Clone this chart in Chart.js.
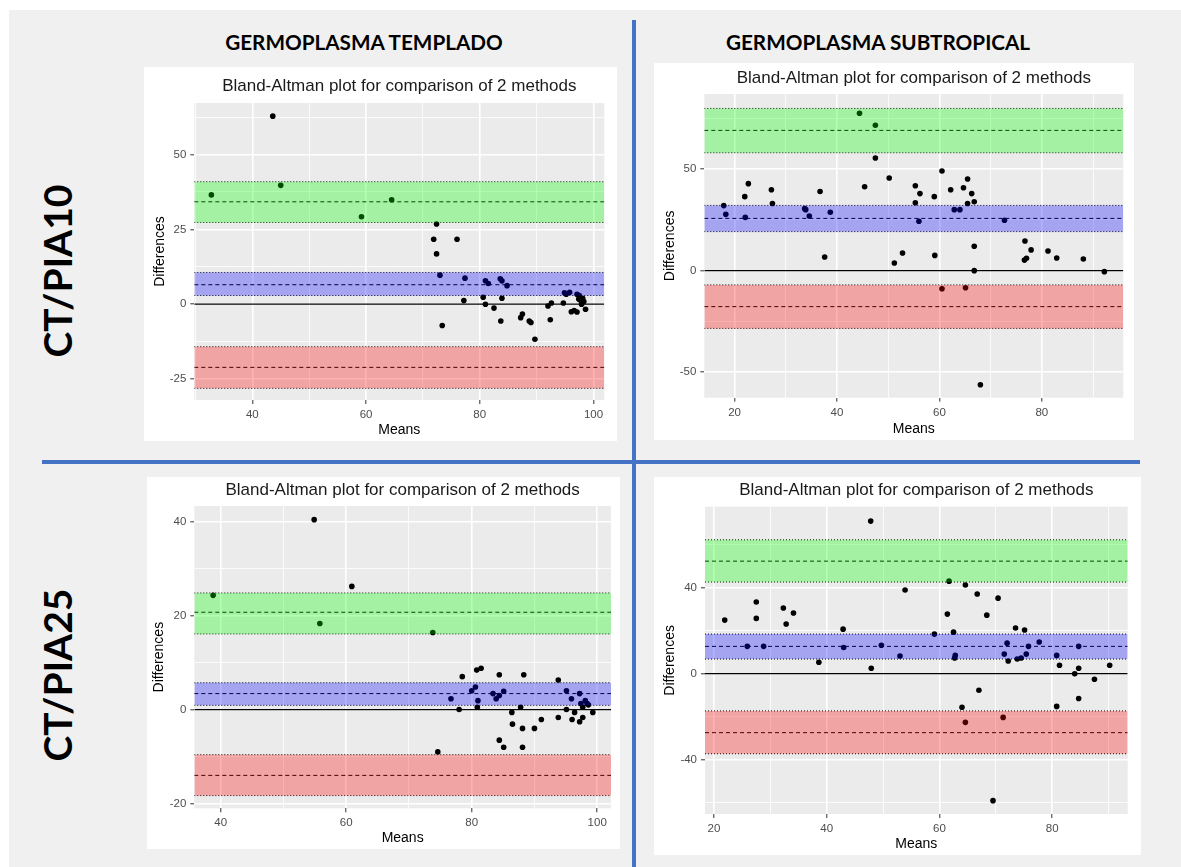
<!DOCTYPE html>
<html>
<head>
<meta charset="utf-8">
<title>Bland-Altman CT / PIA</title>
<script src="https://cdn.jsdelivr.net/npm/chart.js@4.4.1/dist/chart.umd.min.js"></script>
<style>
  body { margin: 0; background: #fff; width: 1181px; height: 867px; position: relative; overflow: hidden; }
  #sheet { position: absolute; left: 9px; top: 10px; width: 1172px; height: 857px; background: #f0f0f0; }
  .panel { position: absolute; background: #fff; }
  .panel canvas { position: absolute; left: 0; top: 0; }
  .head { position: absolute; font-family: Lato, sans-serif; font-weight: bold; font-size: 20.7px; color: #000;
          transform: translate(-50%, -50%); white-space: nowrap; }
  .row { position: absolute; font-family: Lato, sans-serif; font-weight: bold; font-size: 39px; color: #000;
         transform: translate(-50%, -50%) rotate(-90deg); white-space: nowrap; }
  .bar { position: absolute; background: #4472c4; }
</style>
</head>
<body>
<div id="sheet"></div>
<div class="bar" style="left:632px;top:20px;width:4px;height:847px"></div>
<div class="bar" style="left:42px;top:460px;width:1098px;height:4px"></div>
<div class="head" style="left:364px;top:42px">GERMOPLASMA TEMPLADO</div>
<div class="head" style="left:878px;top:42px">GERMOPLASMA SUBTROPICAL</div>
<div class="row" style="left:57px;top:271px">CT/PIA10</div>
<div class="row" style="left:57px;top:675px">CT/PIA25</div>

<div class="panel" style="left:144px;top:67px;width:473px;height:374px"><canvas id="chart1" width="473" height="374"></canvas></div>
<div class="panel" style="left:654px;top:63px;width:480px;height:377px"><canvas id="chart2" width="480" height="377"></canvas></div>
<div class="panel" style="left:147px;top:477px;width:473px;height:372px"><canvas id="chart3" width="473" height="372"></canvas></div>
<div class="panel" style="left:654px;top:477px;width:487px;height:378px"><canvas id="chart4" width="487" height="378"></canvas></div>

<script>
'use strict';

// templado, CT/PIA10
var temp10Means = [32.8, 43.6, 45.0, 59.2, 64.5, 72.4, 71.9, 76.0, 72.4, 73.0, 73.4, 77.4, 77.2, 80.6, 81.0, 81.0,
    81.5, 82.5, 83.6, 83.9, 83.9, 83.7, 84.8, 87.2, 87.5, 88.7, 89.0, 89.7, 92.0, 92.6, 92.4, 94.7, 94.9, 95.2,
    95.8, 96.1, 96.6, 97.1, 97.1, 97.4, 97.5, 97.7, 98.1, 97.9, 98.3, 98.6];
var temp10Diffs = [36.5, 62.8, 39.7, 29.2, 34.9, 26.8, 21.7, 21.7, 16.8, 9.7, -7.1, 8.7, 1.2, 2.3, 0, 7.8,
    6.9, -1.3, 8.5, 7.8, 2.0, -5.6, 6.2, -4.5, -3.3, -5.6, -6.1, -11.7, -0.6, 0.4, -5.2, 0.4, 3.8, 3.3,
    4.0, -2.5, -2.1, -2.6, 3.3, 1.7, 2.9, 1.3, 2.0, 0, 0.9, -1.7];
var temp10Upper = [27.3, 34.2, 40.9];
var temp10Bias = [2.9, 6.5, 10.6];
var temp10Lower = [-28.1, -21.1, -14.2];
var temp10XRange = [29.8, 101.9];
var temp10YRange = [-32, 67.2];
var temp10XTicks = [30, 40, 50, 60, 70, 80, 90, 100];
var temp10XLabels = [40, 60, 80, 100];
var temp10YTicks = [-25, -12.5, 0, 12.5, 25, 37.5, 50, 62.5];
var temp10YLabels = [-25, 0, 25, 50];

// subtropical, CT/PIA10
var sub10Means = [17.9, 18.3, 22.0, 22.1, 22.7, 27.2, 27.4, 33.7, 33.9, 34.6, 36.7, 37.6, 38.7, 44.4, 45.4,
    47.5, 47.5, 50.2, 51.2, 52.8, 55.3, 55.3, 56.2, 56.0, 59.0, 59.1, 60.5, 60.5, 62.2, 62.9, 64.0, 64.7,
    65.5, 65.5, 65.1, 66.3, 66.8, 66.8, 66.8, 68.0, 72.7, 76.6, 77.0, 76.7, 77.9, 81.2, 82.9, 88.1, 92.2];
var sub10Diffs = [32.0, 27.7, 36.4, 26.2, 42.8, 39.8, 33.0, 30.5, 30.0, 26.9, 38.9, 6.7, 28.7, 77.4, 41.3,
    71.5, 55.4, 45.6, 3.8, 8.7, 41.8, 33.4, 37.9, 24.3, 36.4, 7.5, 49.0, -8.9, 39.8, 30.0, 30.0, 40.8,
    45.1, 33.0, -8.4, 37.9, 33.9, 12.0, 0, -56.1, 24.8, 5.2, 6.1, 14.6, 10.2, 9.7, 6.2, 5.7, -0.5];
var sub10Upper = [58.0, 69.0, 79.8];
var sub10Bias = [19.2, 25.7, 32.1];
var sub10Lower = [-28.4, -17.7, -7.0];
var sub10XRange = [14.1, 95.9];
var sub10YRange = [-62.5, 86.9];
var sub10XTicks = [20, 30, 40, 50, 60, 70, 80, 90];
var sub10XLabels = [20, 40, 60, 80];
var sub10YTicks = [-50, -25, 0, 25, 50, 75];
var sub10YLabels = [-50, 0, 50];

// templado, CT/PIA25
var temp25Means = [38.8, 54.9, 55.8, 60.9, 73.8, 74.6, 76.7, 78.0, 78.5, 80.0, 80.6, 80.8, 81.5, 80.9, 81.0,
    83.4, 83.9, 84.4, 84.4, 85.1, 84.4, 85.1, 86.4, 86.5, 87.8, 88.1, 88.3, 88.1, 90.0, 91.1, 93.8, 93.8,
    95.1, 95.1, 95.9, 96.0, 96.4, 97.2, 97.2, 97.4, 97.7, 97.7, 98.1, 98.4, 98.6, 99.3];
var temp25Diffs = [24.3, 40.4, 18.3, 26.2, 16.4, -9.0, 2.3, 0, 7.0, 4.0, 4.8, 8.4, 8.8, 0.5, 1.9,
    3.4, 2.3, 3.0, 7.4, 3.9, -6.5, -8.0, -0.6, -3.1, 0.5, -4.0, 7.4, -8.0, -4.0, -2.1, 6.3, -1.7,
    4.0, 0, 2.3, -2.1, -0.6, 3.4, -2.6, 1.3, -1.7, 0.5, 1.9, 1.3, 1.0, -0.6];
var temp25Upper = [16.1, 20.7, 24.8];
var temp25Bias = [0.9, 3.4, 5.7];
var temp25Lower = [-18.3, -14.0, -9.6];
var temp25XRange = [35.8, 102.2];
var temp25YRange = [-21.0, 43.3];
var temp25XTicks = [40, 50, 60, 70, 80, 90, 100];
var temp25XLabels = [40, 60, 80, 100];
var temp25YTicks = [-20, -10, 0, 10, 20, 30, 40];
var temp25YLabels = [-20, 0, 20, 40];

// subtropical, CT/PIA25
var sub25Means = [21.9, 25.9, 27.5, 27.5, 28.8, 32.3, 32.8, 34.1, 38.6, 42.9, 43.0, 47.8, 47.9, 49.7, 53.0,
    53.9, 59.1, 61.4, 61.7, 62.5, 62.7, 62.8, 64.0, 64.6, 64.6, 66.7, 67.0, 68.4, 69.5, 70.4, 71.3, 71.5,
    72.0, 72.2, 73.5, 73.8, 74.5, 75.1, 75.4, 75.8, 77.7, 80.8, 80.8, 81.3, 84.0, 84.7, 84.7, 84.7, 87.5, 90.2];
var sub25Diffs = [24.9, 12.7, 25.7, 33.3, 12.7, 30.5, 23.1, 28.2, 5.3, 20.7, 12.2, 70.9, 2.5, 13.2, 8.2,
    38.9, 18.4, 27.7, 43.0, 19.3, 7.3, 8.5, -15.6, 41.2, -22.6, 37.0, -7.7, 27.2, -59.0, 35.1, -20.3, 9.1,
    14.2, 5.9, 21.2, 6.8, 7.3, 20.3, 9.1, 12.7, 14.7, -15.2, 8.5, 3.9, 0, 12.7, -11.5, 2.5, -2.6, 3.9];
var sub25Upper = [42.6, 52.3, 62.2];
var sub25Bias = [6.8, 12.7, 18.4];
var sub25Lower = [-37.2, -27.4, -17.3];
var sub25XRange = [18.4, 93.4];
var sub25YRange = [-65.2, 77.6];
var sub25XTicks = [20, 30, 40, 50, 60, 70, 80, 90];
var sub25XLabels = [20, 40, 60, 80];
var sub25YTicks = [-60, -40, -20, 0, 20, 40, 60];
var sub25YLabels = [-40, 0, 40];

var FONT = "'Liberation Sans', Arial, sans-serif";

// grey ggplot panel behind the grid
var panelBg = {
    id: 'panelBg',
    beforeDraw: function (chart) {
        var a = chart.chartArea, ctx = chart.ctx;
        ctx.save();
        ctx.fillStyle = '#ebebeb';
        ctx.fillRect(a.left, a.top, a.right - a.left, a.bottom - a.top);
        ctx.restore();
    }
};

function hline(range, y) {
    return [{x: range[0], y: y}, {x: range[1], y: y}];
}

function lineSet(range, y, dash, width, order) {
    return {
        type: 'line', data: hline(range, y), borderColor: '#000', borderWidth: width,
        borderDash: dash, pointRadius: 0, fill: false, order: order
    };
}

function bandSets(range, band, colour) {
    return [
        // translucent rectangle, painted last so it tints points and lines under it
        {type: 'line', data: hline(range, band[2]), fill: {value: band[0]}, backgroundColor: colour,
            borderColor: 'rgba(0,0,0,0)', borderWidth: 0, pointRadius: 0, order: 0},
        lineSet(range, band[0], [1, 2], 1, 2),
        lineSet(range, band[2], [1, 2], 1, 2),
        lineSet(range, band[1], [4, 3], 1, 2)
    ];
}

function axis(range, ticks, labels, fixSize, title, titlePad) {
    var isMajor = function (v) { return labels.indexOf(v) >= 0; };
    return {
        type: 'linear', min: range[0], max: range[1],
        afterBuildTicks: function (s) { s.ticks = ticks.map(function (v) { return {value: v}; }); },
        afterFit: fixSize,
        ticks: {
            autoSkip: false, maxRotation: 0, padding: 4, color: '#4d4d4d',
            font: {family: FONT, size: 11.5},
            callback: function (v) { return isMajor(v) ? String(v) : ''; }
        },
        grid: {
            color: '#ffffff',
            lineWidth: function (c) { return c.tick && isMajor(c.tick.value) ? 1.6 : 0.8; },
            tickColor: function (c) { return c.tick && isMajor(c.tick.value) ? '#333333' : 'rgba(0,0,0,0)'; },
            tickLength: 4, tickWidth: 1
        },
        border: {display: false},
        title: {display: true, text: title, color: '#000', font: {family: FONT, size: 14}, padding: titlePad}
    };
}

function drawBA(id, p) {
    var points = p.means.map(function (m, i) { return {x: m, y: p.diffs[i]}; });
    var datasets = [].concat(
        bandSets(p.xRange, p.upper, 'rgba(0,255,0,0.3)'),
        bandSets(p.xRange, p.bias, 'rgba(0,0,255,0.3)'),
        bandSets(p.xRange, p.lower, 'rgba(255,0,0,0.3)'),
        [lineSet(p.xRange, 0, [], 1.3, 3),
            {data: points, backgroundColor: '#000', borderColor: '#000', borderWidth: 0, pointRadius: 2.8, order: 1}]
    );

    return new Chart(document.getElementById(id), {
        type: 'scatter',
        data: {datasets: datasets},
        options: {
            responsive: false,
            animation: false,
            events: [],
            layout: {padding: {left: 0, right: p.pad.right, top: 0, bottom: 0}},
            plugins: {
                legend: {display: false},
                tooltip: {enabled: false},
                title: {
                    display: true, fullSize: false,
                    text: 'Bland-Altman plot for comparison of 2 methods',
                    color: '#1a1a1a', font: {family: FONT, size: 17, weight: 'normal'},
                    padding: {top: p.pad.titleTop, bottom: p.pad.titleBottom}
                }
            },
            scales: {
                x: axis(p.xRange, p.xTicks, p.xLabels, function (s) { s.height = p.pad.bottom; },
                    'Means', {top: 0, bottom: 2.8}),
                y: axis(p.yRange, p.yTicks, p.yLabels, function (s) { s.width = p.pad.left; },
                    'Differences', {top: p.pad.yTitle, bottom: 0})
            }
        },
        plugins: [panelBg]
    });
}

drawBA('chart1', {
    means: temp10Means, diffs: temp10Diffs, upper: temp10Upper, bias: temp10Bias, lower: temp10Lower,
    xRange: temp10XRange, yRange: temp10YRange, xTicks: temp10XTicks, xLabels: temp10XLabels,
    yTicks: temp10YTicks, yLabels: temp10YLabels,
    pad: {left: 50.3, right: 12.7, bottom: 41, titleTop: 9.3, titleBottom: 6.3, yTitle: 7.6}
});

drawBA('chart2', {
    means: sub10Means, diffs: sub10Diffs, upper: sub10Upper, bias: sub10Bias, lower: sub10Lower,
    xRange: sub10XRange, yRange: sub10YRange, xTicks: sub10XTicks, xLabels: sub10XLabels,
    yTicks: sub10YTicks, yLabels: sub10YLabels,
    pad: {left: 50.3, right: 10.7, bottom: 42.3, titleTop: 5.1, titleBottom: 5.5, yTitle: 7.6}
});

drawBA('chart3', {
    means: temp25Means, diffs: temp25Diffs, upper: temp25Upper, bias: temp25Bias, lower: temp25Lower,
    xRange: temp25XRange, yRange: temp25YRange, xTicks: temp25XTicks, xLabels: temp25XLabels,
    yTicks: temp25YTicks, yLabels: temp25YLabels,
    pad: {left: 47.3, right: 9, bottom: 40.7, titleTop: 2.8, titleBottom: 5.8, yTitle: 3.6}
});

drawBA('chart4', {
    means: sub25Means, diffs: sub25Diffs, upper: sub25Upper, bias: sub25Bias, lower: sub25Lower,
    xRange: sub25XRange, yRange: sub25YRange, xTicks: sub25XTicks, xLabels: sub25XLabels,
    yTicks: sub25YTicks, yLabels: sub25YLabels,
    pad: {left: 51, right: 13.3, bottom: 41, titleTop: 2.8, titleBottom: 6.5, yTitle: 7.6}
});
</script>
</body>
</html>
